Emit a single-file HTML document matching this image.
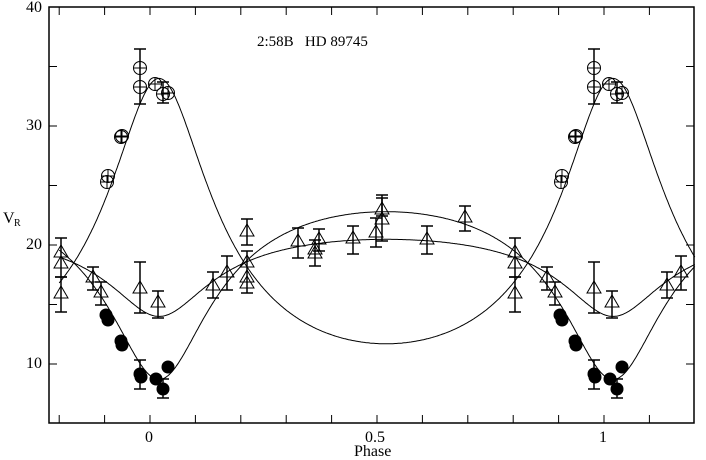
<!DOCTYPE html>
<html><head><meta charset="utf-8"><style>
body{margin:0;background:#fff}
#w{position:relative;width:706px;height:460px}
svg{display:block;position:absolute;left:0;top:0}
.t{position:absolute;font-family:"Liberation Serif","Times New Roman","DejaVu Serif",serif;font-size:16px;line-height:1;white-space:nowrap;color:#000}
</style></head><body>
<div id="w">
<svg id="s" width="706" height="460" xmlns="http://www.w3.org/2000/svg"></svg>
<div class="t" style="right:664px;top:0px">40</div>
<div class="t" style="right:664px;top:118px">30</div>
<div class="t" style="right:664px;top:237px">20</div>
<div class="t" style="right:664px;top:356px">10</div>
<div class="t" style="left:145px;top:430px">0</div>
<div class="t" style="left:365px;top:430px">0.5</div>
<div class="t" style="left:599px;top:430px">1</div>
<div class="t" style="left:354px;top:444px">Phase</div>
<div class="t" style="left:3px;top:211px">V</div>
<div class="t" style="left:14px;top:219px;font-size:10px">R</div>
<div class="t" style="left:257px;top:35px;font-size:15px">2:58B&#160;&#160;&#160;HD 89745</div>
</div>
<script>
const s=document.getElementById('s');let h='';
const X=p=>150+454*p, Y=v=>364-(v-10)*11.9;
h+='<rect x="49" y="7" width="645" height="416" fill="none" stroke="#000" stroke-width="1.5"/>';
for(let i=-2;i<=11;i++){const x=X(i/10);h+=`<line x1="${x}" y1="423" x2="${x}" y2="415" stroke="#000"/><line x1="${x}" y1="7" x2="${x}" y2="15" stroke="#000"/>`;}
for(let v=10;v<=35;v+=5){const y=Y(v);h+=`<line x1="49" y1="${y}" x2="57" y2="${y}" stroke="#000"/><line x1="694" y1="${y}" x2="686" y2="${y}" stroke="#000"/>`;}
const e=0.39,g=18.5,T0=0.02;
function f(p){let M=2*Math.PI*(p-T0),E=M;for(let k=0;k<30;k++)E=M+e*Math.sin(E);
const nu=2*Math.atan2(Math.sqrt(1+e)*Math.sin(E/2),Math.sqrt(1-e)*Math.cos(E/2));return Math.cos(nu)+e;}
[11.15,-7.05,-3.24].forEach(K=>{let d='';for(let i=0;i<=560;i++){const p=-0.2+1.4*i/560;d+=(i?'L':'M')+X(p).toFixed(1)+','+Y(g+K*f(p)).toFixed(1);}h+=`<path d="${d}" fill="none" stroke="#000" stroke-width="1"/>`;});
function rep(x,fn){[x-454,x,x+454].forEach(xx=>{if(xx>=52&&xx<=694)fn(xx);});}
function bar(x,a,b){h+=`<line x1="${x}" y1="${a}" x2="${x}" y2="${b}" stroke="#000" stroke-width="1.5"/><line x1="${x-6}" y1="${a}" x2="${x+6}" y2="${a}" stroke="#000" stroke-width="1.5"/><line x1="${x-6}" y1="${b}" x2="${x+6}" y2="${b}" stroke="#000" stroke-width="1.5"/>`;}
[[140,49,104],[163,82,103],[140,360,389],[163,379,398],[61,238,277],[61,277,312],[140,262,313],[158,291,318],[213,272,298],[227,256,290],[247,219,245],[247,251,293],[298,228,258],[315,240,266],[319,229,251],[353,226,254],[376,218,247],[382,195,216],[382,198,241],[427,226,254],[465,206,231],[93,267,290],[101,282,305]].forEach(b=>rep(b[0],x=>bar(x,b[1],b[2])));
[[140,68],[140,87],[155,84],[163,94],[168,93],[121,137],[122,136],[107,182],[108,176]].forEach(c=>rep(c[0],x=>{h+=`<circle cx="${x}" cy="${c[1]}" r="6.5" fill="none" stroke="#000" stroke-width="1"/><line x1="${x-6.5}" y1="${c[1]}" x2="${x+6.5}" y2="${c[1]}" stroke="#000"/><line x1="${x}" y1="${c[1]-6.5}" x2="${x}" y2="${c[1]+6.5}" stroke="#000"/>`;}));
[[106,315],[108,320],[121,341],[122,345],[140,374],[141,377],[156,379],[163,389],[168,367]].forEach(c=>rep(c[0],x=>{h+=`<circle cx="${x}" cy="${c[1]}" r="6.5" fill="#000"/>`;}));
[[61,252],[61,263],[61,293],[93,277],[101,292],[140,288],[158,302],[213,285],[227,272],[247,231],[247,262],[247,277],[247,283],[298,241],[315,249],[315,253],[319,239],[353,238],[376,232],[382,209],[382,219],[427,239],[465,217]].forEach(c=>rep(c[0],x=>{const y=c[1];h+=`<path d="M${x-7},${y+5}L${x+7},${y+5}L${x},${y-7}Z" fill="none" stroke="#000" stroke-width="1"/>`;}));
s.innerHTML=h;
</script>
</body></html>
